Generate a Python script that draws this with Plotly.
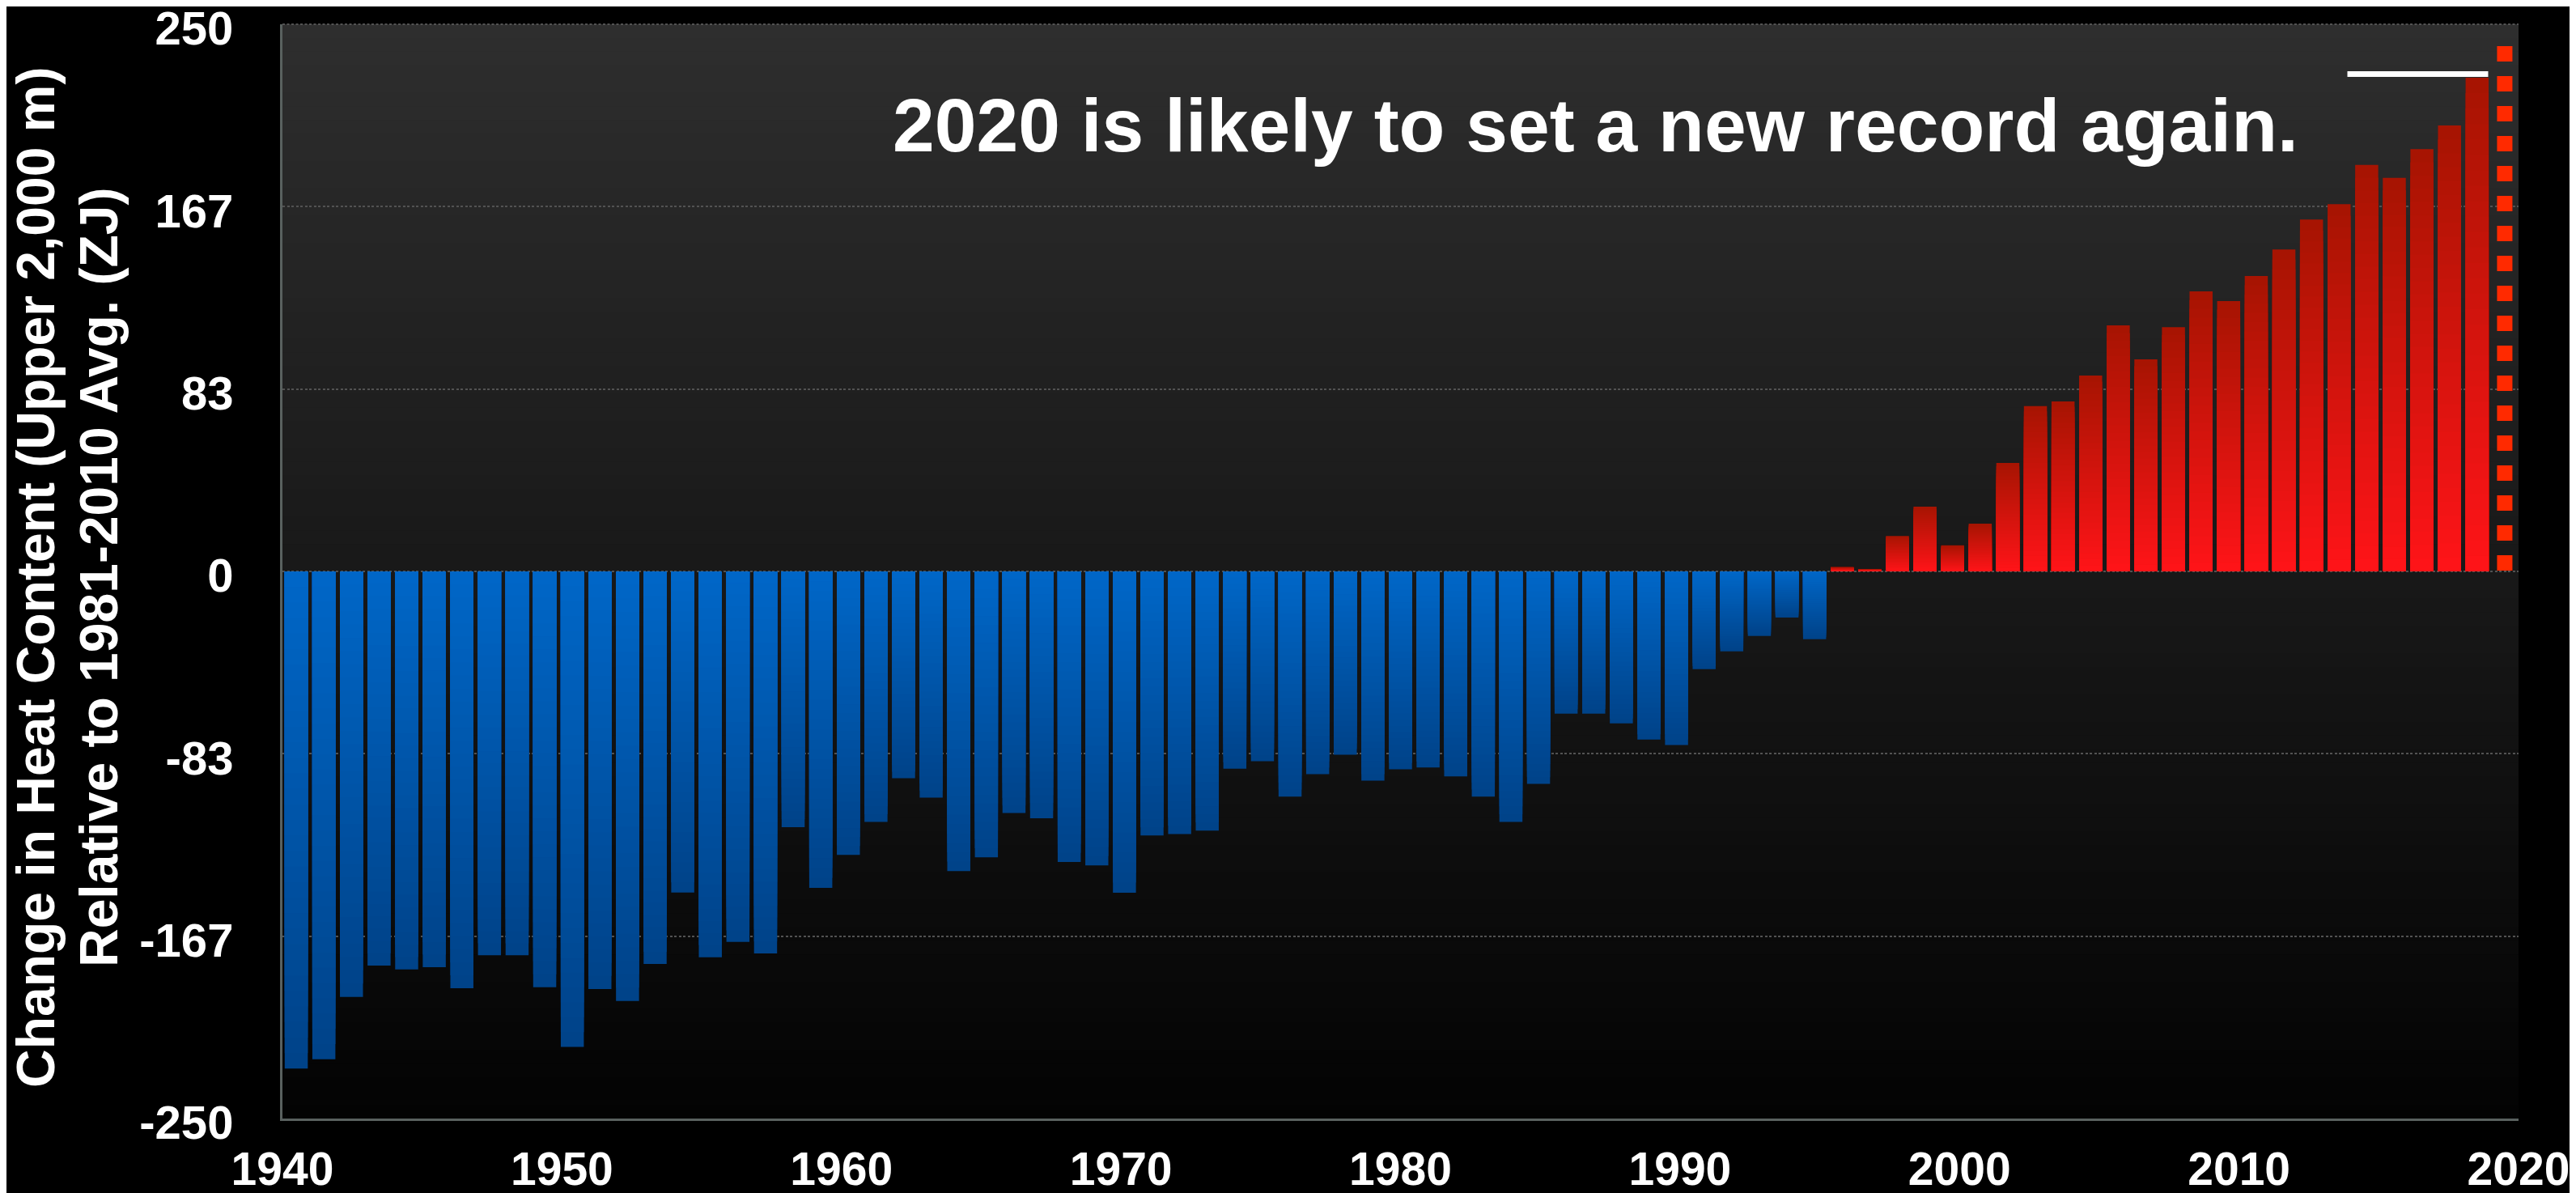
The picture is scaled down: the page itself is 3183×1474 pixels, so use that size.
import plotly.graph_objects as go

# ---------------- data ----------------
years = list(range(1940, 2020))
heat_content = [
    -227.2, -222.9, -194.4, -180.1, -181.9, -180.8, -190.5, -175.4, -175.4, -190.0,   # 1940s
    -217.3, -190.8, -196.3, -179.4, -146.7, -176.3, -169.3, -174.6, -116.9, -144.6,   # 1950s
    -129.5, -114.5, -94.5, -103.4, -136.9, -130.6, -110.4, -112.8, -132.8, -134.3,    # 1960s
    -146.8, -120.7, -120.0, -118.4, -90.1, -86.7, -102.9, -92.6, -83.8, -95.6,        # 1970s
    -90.4, -89.6, -93.7, -102.9, -114.5, -97.1, -65.0, -65.0, -69.4, -76.8,           # 1980s
    -79.3, -44.7, -36.5, -29.5, -21.1, -31.0, 2.0, 1.0, 16.2, 29.6,                   # 1990s
    11.9, 21.8, 49.6, 75.5, 77.7, 89.5, 112.4, 96.9, 111.6, 128.0,                    # 2000s
    123.5, 135.0, 147.1, 160.8, 167.8, 185.7, 179.8, 193.0, 203.8, 225.6,             # 2010s
]
estimate_year = 2020
estimate_value = 240.0            # dotted "likely" bar for 2020
record_line_years = [2014.3, 2019.4]
record_line_value = 227.3

y_tickvals = [-250, -250 * 2 / 3, -250 / 3, 0, 250 / 3, 250 * 2 / 3, 250]
y_ticktext = ["-250", "-167", "-83", "0", "83", "167", "250"]
x_tickvals = [1940, 1950, 1960, 1970, 1980, 1990, 2000, 2010, 2020]
x_ticktext = [str(v) for v in x_tickvals]

headline = "2020 is likely to set a new record again."
ytitle_line1 = "Change in Heat Content (Upper 2,000 m)"
ytitle_line2 = "Relative to 1981-2010 Avg. (ZJ)"

# ---------------- style ----------------
W, H = 3183, 1474
FONT = "Liberation Sans, Arial, sans-serif"
BLUE_NEAR, BLUE_FAR = (0, 103, 200), (0, 66, 136)
RED_NEAR, RED_FAR = (255, 20, 24), (166, 20, 2)
BG_TOP, BG_BOTTOM = (46, 46, 46), (3, 3, 3)
GRID_COLOR = "#525252"
GRID_DASH = "3px,2.5px"
N_BANDS = 32
N_BG = 80
PLOT_W = 2763


def lerp(c0, c1, t):
    return "rgb(%d,%d,%d)" % tuple(round(a + (b - a) * t) for a, b in zip(c0, c1))


fig = go.Figure()

# Bars: the full-length trace carries the data; shorter overlaid copies
# paint the per-bar vertical colour gradient (dark at the far end).
for k in range(N_BANDS):
    frac = 1 - k / N_BANDS
    t = 1 - (k + 0.5) / N_BANDS
    colors = [lerp(RED_NEAR, RED_FAR, t) if v >= 0 else lerp(BLUE_NEAR, BLUE_FAR, t)
              for v in heat_content]
    fig.add_trace(go.Bar(
        x=years,
        y=[v * frac for v in heat_content] if k else heat_content,
        marker=dict(color=colors, line=dict(width=0)),
        hoverinfo="x+y" if k == 0 else "skip",
        showlegend=False,
        name="Heat content" if k == 0 else None,
    ))

# 2020 estimate: dotted column
fig.add_trace(go.Scatter(
    x=[estimate_year, estimate_year], y=[estimate_value, 0],
    mode="lines", line=dict(color="#ff2a00", width=19, dash="19px,18px"),
    showlegend=False, hoverinfo="skip",
))

# record marker line above 2019
fig.add_trace(go.Scatter(
    x=record_line_years, y=[record_line_value, record_line_value],
    mode="lines", line=dict(color="#ffffff", width=7),
    showlegend=False, hoverinfo="skip",
))

# carrier for the labelled year axis
fig.add_trace(go.Scatter(
    x=[x_tickvals[0], x_tickvals[-1]], y=[None, None], xaxis="x2",
    mode="markers", showlegend=False, hoverinfo="skip",
))

# background gradient (below grid)
shapes = []
for i in range(N_BG):
    top = 1 - i / N_BG
    shapes.append(dict(
        type="rect", xref="x domain", yref="y domain",
        x0=0, x1=1, y0=0, y1=top,
        fillcolor=lerp(BG_TOP, BG_BOTTOM, (i + 0.5) / N_BG),
        line=dict(width=0), layer="below",
    ))
# top dotted border (grid line at the range end is clipped by plotly)
shapes.append(dict(
    type="line", xref="x domain", yref="y domain", x0=0, x1=1, y0=1, y1=1,
    line=dict(color=GRID_COLOR, width=2, dash=GRID_DASH), layer="below",
))

axis_line = "#59615f"
fig.update_layout(
    width=W, height=H,
    paper_bgcolor="#000000", plot_bgcolor="#000000",
    margin=dict(l=341, r=79, t=22, b=100, pad=0, autoexpand=False),
    barmode="overlay", bargap=0.165,
    shapes=shapes,
    showlegend=False,
    xaxis=dict(
        range=[1939.5, 2020.5], showticklabels=False, ticks="",
        showgrid=False, zeroline=False, automargin=False,
        showline=True, linecolor=axis_line, linewidth=3,
    ),
    xaxis2=dict(
        overlaying="x", anchor="y", side="bottom",
        range=[1940, 2020], tickvals=x_tickvals, ticktext=x_ticktext,
        tickfont=dict(family=FONT, size=57, color="#ffffff", weight="bold"),
        ticks="", showgrid=False, zeroline=False, showline=False,
        ticklabelstandoff=24, ticklabeloverflow="allow", automargin=False,
    ),
    yaxis=dict(
        range=[-250, 250], tickvals=y_tickvals, ticktext=y_ticktext,
        tickfont=dict(family=FONT, size=58, color="#ffffff", weight="bold"),
        ticks="", ticklabelstandoff=46, ticklabelshift=5, ticklabeloverflow="allow",
        showgrid=True, gridcolor=GRID_COLOR, gridwidth=2, griddash=GRID_DASH,
        zeroline=False, automargin=False,
        showline=True, linecolor=axis_line, linewidth=3,
    ),
    annotations=[
        dict(text=headline, xref="paper", yref="paper", x=0.5874, y=0.9075,
             xanchor="center", yanchor="middle", showarrow=False,
             font=dict(family=FONT, size=93, color="#ffffff", weight="bold")),
        dict(text=ytitle_line1, xref="paper", yref="paper",
             x=-305 / PLOT_W, y=0.4948, textangle=-90,
             xanchor="center", yanchor="middle", showarrow=False,
             font=dict(family=FONT, size=66, color="#ffffff", weight="bold")),
        dict(text=ytitle_line2, xref="paper", yref="paper",
             x=-227 / PLOT_W, y=0.4948, textangle=-90,
             xanchor="center", yanchor="middle", showarrow=False,
             font=dict(family=FONT, size=66, color="#ffffff", weight="bold")),
    ],
)

fig.write_html("out.html")
